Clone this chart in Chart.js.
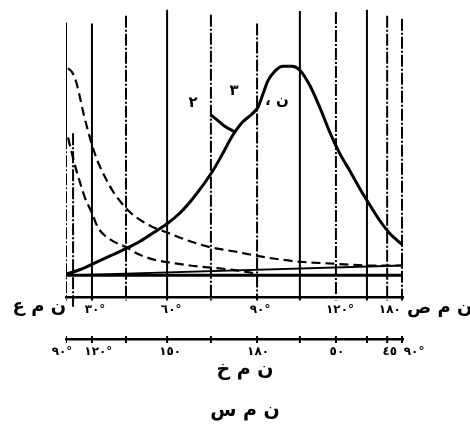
<!DOCTYPE html>
<html><head><meta charset="utf-8">
<script src="https://cdn.jsdelivr.net/npm/chart.js@4/dist/chart.umd.min.js"></script>
<style>html,body{margin:0;padding:0;background:#fff;}#wrap{width:470px;height:434px;position:relative;}</style>
</head><body><div id="wrap"><canvas id="c"></canvas></div>
<script>
// x: 0..100 across the plot; y: baseline = 0, peak of main curve = 100
const mainCurveX = [0,4.2,8.6,13.1,18.1,22.0,26.4,30.0,33.8,38.3,43.3,46.3,49.3,52.2,55.2,57.0,58.5,59.9,62.0,64.4,67.1,69.4,72.4,75.4,78.3,81.3,84.3,87.2,90.2,93.2,96.1,100];
const mainCurveY = [0.5,2.8,6.0,9.3,13.0,16.3,20.9,24.7,29.8,38.1,49.3,57.7,66.5,73.0,77.2,80.5,87.0,93.0,97.7,100,100,98.1,90.7,80.0,68.4,58.1,49.8,41.4,33.5,26.0,20.0,14.4];
const branchX = [43.0,45.1,47.2,49.9];
const branchY = [76.7,74.0,71.2,68.8];
const dashUpperX = [0.6,1.8,3.0,4.2,5.3,6.5,8.0,9.8,11.9,14.2,16.6,19.0,22.0,25.5,30.0,36.8,42.7,50.7,56.7,64.4,69.4,79.2,90.2,100];
const dashUpperY = [99.1,97.2,92.6,84.7,76.7,69.3,60.9,53.0,46.0,39.5,34.4,30.2,26.5,23.3,20.5,16.3,13.5,11.2,9.3,7.4,6.5,5.6,4.7,4.7];
const dashLowerX = [0.6,1.8,3.0,4.2,5.6,7.7,9.5,13.1,17.8,21.4,26.4,31.5,36.8,43.3,51.0,56.1];
const dashLowerY = [66.0,58.1,50.7,44.2,37.2,29.8,22.8,17.2,13.5,10.2,7.4,6.0,4.7,3.7,2.3,0.9];
const riseX = [0,100];
const riseY = [0,4.7];
const baseX = [0,100];
const baseY = [0,0];

// vertical rules
const solidRuleX = [0,7.7,30.0,69.4,89.3];
const solidRuleTop = [120.9,120.5,127.0,126.5,127.0];
const solidRuleBottom = [66,-12,-12,-12,-12];
const brokenRuleX = [0,2.1,17.8,43.0,56.7,80.1,95.3,99.7];
const brokenRuleTop = [66,68,124.2,124.7,120.5,126.0,124.2,122.8];
const brokenRuleBottom = [-12,-15,-12,-12,-12,-12,-12,-12];
const lowerTickMarkX = [0,7.7,17.8,30.0,43.0,56.7,69.4,80.1,89.3,95.3,99.7];

// tick labels
const upperTickPos = [8.6,31.2,57.6,81.3,96.1];
const upperTickLabels = ["٣٠°","٦٠°","٩٠°","١٢٠°","١٨٠"];
const lowerTickPos = [-1.2,9.6,30.9,57.0,80.4,96.1,103.3];
const lowerTickLabels = ["٩٠°","١٢٠°","١٥٠","١٨٠","٥٠","٤٥","٩٠°"];

// texts
const axisNames = ["ن م ع","ن م ص","ن م خ","ن م س"];
const curveLabels = ["٢","٣","ن ،"];

const UPPER_AXIS_Y = -10.7, LOWER_AXIS_Y = -30.7;

const pts = (xs, ys) => xs.map((x,i)=>({x, y: ys[i]}));
const rules = (xs, tops, bots) => xs.flatMap((x,i)=>[{x,y:tops[i]},{x,y:bots[i]},{x,y:null}]);

const textPlugin = {
  id: 'freeText',
  afterDraw(chart, args, opts) {
    const {ctx} = chart; const x = chart.scales.x, y = chart.scales.y;
    opts.items.forEach(it => {
      ctx.save();
      ctx.font = it.font;
      ctx.fillStyle = '#000';
      ctx.textAlign = it.align;
      ctx.textBaseline = 'middle';
      ctx.direction = 'rtl';
      ctx.fillText(it.text, x.getPixelForValue(it.x), y.getPixelForValue(it.y));
      ctx.restore();
    });
  }
};

const lineDs = (data, w, dash, extra) => Object.assign({data, borderColor:'#000', borderWidth:w, borderDash:dash||[], pointRadius:0, fill:false, spanGaps:false}, extra||{});

const tickFont = {family:'"DejaVu Sans"', size:12, weight:'bold'};
const bigFont = 'bold 19px "DejaVu Sans"';
const sideFont = 'bold 18px "DejaVu Sans"';
const smallFont = 'bold 15px "DejaVu Sans"';

new Chart(document.getElementById('c'), {
  type: 'line',
  data: { datasets: [
    lineDs(rules(solidRuleX, solidRuleTop, solidRuleBottom), 2),
    lineDs(rules(brokenRuleX, brokenRuleTop, brokenRuleBottom), 2, [12,2,2,2]),
    lineDs(pts(baseX, baseY), 3),
    lineDs(pts(riseX, riseY), 1.8),
    lineDs(pts(dashUpperX, dashUpperY), 2.2, [9,5], {cubicInterpolationMode:'monotone'}),
    lineDs(pts(dashLowerX, dashLowerY), 2.2, [9,5], {cubicInterpolationMode:'monotone'}),
    lineDs(pts(mainCurveX, mainCurveY), 3, [], {cubicInterpolationMode:'monotone'}),
    lineDs(pts(branchX, branchY), 3, [], {cubicInterpolationMode:'monotone'}),
    {type:'scatter', xAxisID:'x2', data: lowerTickMarkX.map(v=>({x:v, y:LOWER_AXIS_Y})), pointStyle:'line', rotation:90, pointRadius:3.5, borderWidth:2, borderColor:'#000', showLine:false}
  ]},
  options: {
    responsive:true, maintainAspectRatio:false, animation:false, devicePixelRatio:1,
    layout:{padding:{left:66,right:67,top:0,bottom:0}},
    plugins:{legend:{display:false}, tooltip:{enabled:false},
      freeText:{items:[
        {text:axisNames[0], x:0, y:-15.3, align:'right', font:sideFont},
        {text:axisNames[1], x:101.2, y:-15.8, align:'left', font:sideFont},
        {text:axisNames[2], x:53.1, y:-45.1, align:'center', font:bigFont},
        {text:axisNames[3], x:53.1, y:-64.7, align:'center', font:bigFont},
        {text:curveLabels[0], x:37.7, y:82.3, align:'center', font:smallFont},
        {text:curveLabels[1], x:49.9, y:87.9, align:'center', font:smallFont},
        {text:curveLabels[2], x:62.6, y:83.3, align:'center', font:smallFont}
      ]}
    },
    scales:{
      x:{type:'linear', axis:'x', min:0, max:100, position:{y:UPPER_AXIS_Y},
        grid:{display:false, drawTicks:false}, border:{display:true, width:2.5, color:'#000'},
        ticks:{autoSkip:false, maxRotation:0, minRotation:0, padding:5, color:'#000', font:tickFont,
          callback:(v,i)=>upperTickLabels[i]},
        afterBuildTicks:s=>{ s.ticks = upperTickPos.map(v=>({value:v})); }},
      x2:{type:'linear', axis:'x', min:0, max:100, position:{y:LOWER_AXIS_Y},
        grid:{display:false, drawTicks:false}, border:{display:true, width:2.5, color:'#000'},
        ticks:{autoSkip:false, maxRotation:0, minRotation:0, padding:5, color:'#000', font:tickFont,
          callback:(v,i)=>lowerTickLabels[i]},
        afterBuildTicks:s=>{ s.ticks = lowerTickPos.map(v=>({value:v})); }},
      y:{type:'linear', min:-73.02, max:128.84, display:false}
    }
  },
  plugins:[textPlugin]
});
</script></body></html>
